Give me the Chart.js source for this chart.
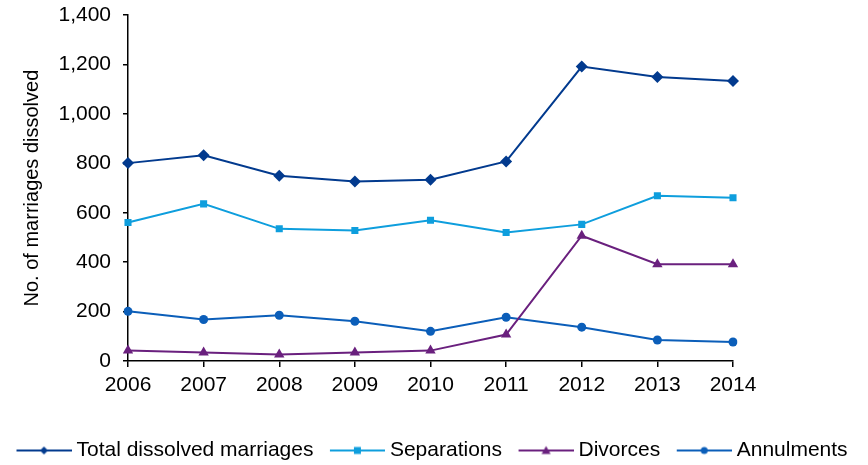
<!DOCTYPE html>
<html>
<head>
<meta charset="utf-8">
<script src="https://cdn.jsdelivr.net/npm/chart.js@4.4.0/dist/chart.umd.min.js"></script>
<style>
  html, body { margin: 0; padding: 0; background: #fff; }
  #wrap { width: 868px; height: 465px; }
</style>
</head>
<body>
<div id="wrap"><canvas id="mycanvas" width="868" height="465"></canvas></div>
<script>
// values
var years = ['2006', '2007', '2008', '2009', '2010', '2011', '2012', '2013', '2014'];
var totalDissolved = [801, 833, 750, 727, 734, 808, 1192, 1150, 1133];
var separations = [561, 636, 535, 528, 570, 520, 553, 669, 661];
var divorces = [42, 34, 26, 34, 42, 107, 507, 392, 392];
var annulments = [201, 168, 185, 161, 120, 177, 137, 85, 77];
var yTicks = [0, 200, 400, 600, 800, 1000, 1200, 1400];

var FONT = "'Liberation Sans', Arial, sans-serif";
var BOX_W = 58;

// little line+marker pictures for the legend (line sits on the right part)
function legendIcon(color, style, r) {
  var c = document.createElement('canvas');
  c.width = BOX_W + 11; c.height = 16;
  var g = c.getContext('2d');
  var x1 = c.width, x0 = x1 - 55, cx = (x0 + x1) / 2, cy = 8;
  g.strokeStyle = color; g.fillStyle = color; g.lineWidth = 2;
  g.beginPath(); g.moveTo(x0, cy); g.lineTo(x1, cy); g.stroke();
  g.beginPath();
  if (style === 'rectRot') {
    g.moveTo(cx, cy - r); g.lineTo(cx + r, cy); g.lineTo(cx, cy + r); g.lineTo(cx - r, cy);
  } else if (style === 'rect') {
    g.rect(cx - r, cy - r, 2 * r, 2 * r);
  } else if (style === 'triangle') {
    g.moveTo(cx, cy - r); g.lineTo(cx + r, cy + r * 0.8); g.lineTo(cx - r, cy + r * 0.8);
  } else {
    g.arc(cx, cy, r, 0, Math.PI * 2);
  }
  g.closePath(); g.fill();
  return c;
}

var series = [
  { label: 'Total dissolved marriages', data: totalDissolved, color: '#023A8E', style: 'rectRot', r: 6, lr: 4 },
  { label: 'Separations', data: separations, color: '#0E9EDD', style: 'rect', r: 5, lr: 3.5 },
  { label: 'Divorces', data: divorces, color: '#6A207E', style: 'triangle', r: 6, lr: 4.5 },
  { label: 'Annulments', data: annulments, color: '#0B5EB9', style: 'circle', r: 4.5, lr: 3.5 }
];

var datasets = series.map(function(s) {
  return {
    label: s.label,
    data: s.data,
    borderColor: s.color,
    backgroundColor: s.color,
    borderWidth: 2,
    pointStyle: s.style,
    pointRadius: s.r,
    pointHoverRadius: s.r,
    pointBorderWidth: 0,
    tension: 0,
    icon: legendIcon(s.color, s.style, s.lr)
  };
});

new Chart(document.getElementById('mycanvas'), {
  type: 'line',
  data: { labels: years, datasets: datasets },
  options: {
    responsive: false,
    animation: false,
    layout: { padding: { top: 0, bottom: -6, left: 0, right: 0 } },
    plugins: {
      tooltip: { enabled: false },
      legend: {
        position: 'bottom',
        align: 'start',
        labels: {
          usePointStyle: true,
          pointStyleWidth: BOX_W,
          padding: 8,
          color: '#000',
          font: { family: FONT, size: 21 },
          generateLabels: function(chart) {
            return chart.data.datasets.map(function(d, i) {
              return {
                text: d.label,
                pointStyle: d.icon,
                fillStyle: d.borderColor,
                strokeStyle: d.borderColor,
                lineWidth: 0,
                hidden: false,
                datasetIndex: i,
                fontColor: '#000'
              };
            });
          }
        }
      }
    },
    scales: {
      x: {
        offset: false,
        afterFit: function(s) { s.height = 71; },
        grid: { display: true, drawOnChartArea: false, drawTicks: true, tickLength: 6, color: '#000', lineWidth: 1.5 },
        border: { color: '#000', width: 1.5 },
        ticks: { color: '#000', font: { family: FONT, size: 21 }, padding: 6, maxRotation: 0 }
      },
      y: {
        min: 0,
        max: 1400,
        afterBuildTicks: function(s) { s.ticks = yTicks.map(function(v) { return { value: v }; }); },
        afterFit: function(s) { s.width = 128; },
        grid: { display: true, drawOnChartArea: false, drawTicks: true, tickLength: 5, color: '#000', lineWidth: 1.5 },
        border: { color: '#000', width: 1.5 },
        ticks: { color: '#000', font: { family: FONT, size: 21, lineHeight: 0.3 }, padding: 12 },
        title: { display: true, text: 'No. of marriages dissolved', color: '#000', font: { family: FONT, size: 20 }, padding: { top: 20, bottom: 0 } }
      },
      spacer: {
        position: 'right',
        min: 0,
        max: 1,
        afterFit: function(s) { s.width = 135; },
        grid: { display: false },
        border: { display: false },
        ticks: { display: false }
      }
    }
  }
});
</script>
</body>
</html>
